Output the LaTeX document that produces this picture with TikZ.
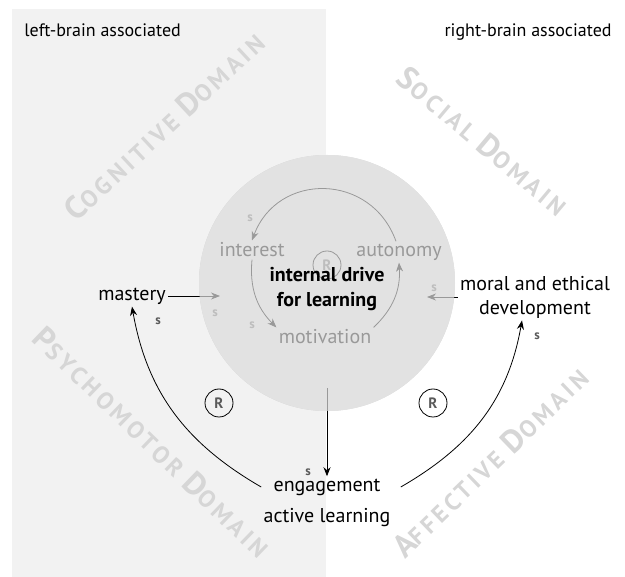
\documentclass[tikz,border=0pt]{standalone}
\usepackage{fontspec}
\setmainfont{PT Sans}
\newfontfamily\domfont{PT Sans}[LetterSpace=15]
\usetikzlibrary{arrows.meta}

\definecolor{panel}{HTML}{F2F2F2}
\definecolor{domgray}{HTML}{D6D6D6}
\definecolor{disc}{HTML}{B8B8B8}
\definecolor{signgray}{HTML}{5A5A5A}

% big first letter, small caps for the rest
\newcommand{\dom}[2]{{\fontsize{32}{32}\selectfont #1}{\fontsize{24}{24}\selectfont #2}}

\tikzset{
  txt/.style={inner sep=2pt,font=\fontsize{20}{24}\selectfont},
  watermark/.style={inner sep=0pt,text=domgray,font=\domfont\bfseries},
  sign/.style={inner sep=0pt,text=signgray,font=\bfseries\fontsize{13}{13}\selectfont},
  loopmark/.style={circle,draw,line width=0.8pt,minimum size=28pt,inner sep=0pt,
    text=signgray,font=\bfseries\fontsize{15}{15}\selectfont},
}

\begin{document}
\begin{tikzpicture}[x=1pt,y=1pt,>={Stealth[length=9pt,width=7pt]},line width=0.8pt]

\useasboundingbox (0,0) rectangle (625,-577);
\fill[panel] (12,-9) rectangle (326,-577);

% domain watermarks
\node[watermark,rotate=43](cog) at (164,-126) {\dom{C}{OGNITIVE}\hspace{9pt}\dom{D}{OMAIN}};
\node[watermark,rotate=-40](soc) at (483,-141) {\dom{S}{OCIAL}\hspace{9pt}\dom{D}{OMAIN}};
\node[watermark,rotate=-44](psy) at (152,-442) {\dom{P}{SYCHOMOTOR}\hspace{9pt}\dom{D}{OMAIN}};
\node[watermark,rotate=44](aff) at (490,-462) {\dom{A}{FFECTIVE}\hspace{9pt}\dom{D}{OMAIN}};

\node[txt,anchor=base west,font=\fontsize{18}{18}\selectfont](lb) at (22,-37) {left-brain associated};
\node[txt,anchor=base east,font=\fontsize{18}{18}\selectfont](rb) at (614,-37) {right-brain associated};

% the disc
\node[circle,fill=disc,minimum size=256pt,inner sep=0pt](core) at (327,-283) {};

% inner loop
\node[txt](int) at (252,-250) {interest};
\node[txt](aut) at (399,-252) {autonomy};
\node[txt](mot) at (325,-337) {motivation};
\node[loopmark](rin) at (327,-265) {R};

\draw[->] ([xshift=-3pt]aut.north) to[bend right=70,looseness=1.3] (int.north);
\draw[->] (int.south) to[bend right=25] (mot.north west);
\draw[->] (mot.north east) to[bend right=25] (aut.south);

\node[sign](sint) at (250,-218) {s};
\node[sign](smot) at (252,-325) {s};

% outer nodes
\node[txt](mast) at (132,-296) {mastery};
\node[txt,align=center](moral) at (535,-297) {moral and ethical\\development};
\node[txt](eng) at (327,-487) {engagement};
\node[txt](act)[below of=eng,node distance=31pt] {active learning};

\coordinate (mastin) at (220,-296);
\coordinate (moralin) at (427,-297);
\coordinate (engin) at (327,-388);

\path (mast) edge[->] (mastin)
	(moral) edge[->] (moralin)
	(engin) edge[->] (eng)
	([xshift=-10pt]eng.west) edge[->,out=150,in=-80] (mast.south)
	([xshift=18pt]eng.east) edge[->,out=30,in=-100] ([xshift=-13pt]moral.south);

\node[sign](smast) at (215,-313) {s};
\node[sign](smoral) at (434,-288) {s};
\node[sign](seng) at (308,-472) {s};
\node[sign](smastup) at (158,-321) {s};
\node[sign](sdev) at (537,-336) {s};

\node[loopmark](rleft) at (219,-403) {R};
\node[loopmark](rright) at (433,-403) {R};

% veil over the disc
\fill[white,fill opacity=0.6] (core.center) circle[radius=128];

\node[txt,align=center,font=\bfseries\fontsize{20}{25}\selectfont](drive) at (327,-289) {internal drive\\for learning};

\end{tikzpicture}
\end{document}
